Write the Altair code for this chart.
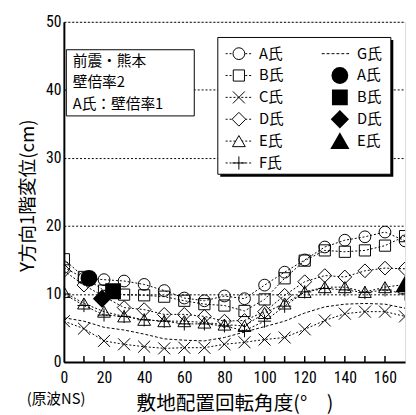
import altair as alt
import pandas as pd

# ---------------- data ----------------
angles = [0, 10, 20, 30, 40, 50, 60, 70, 80, 90, 100, 110, 120, 130, 140, 150, 160, 170]
A = [13.9, 12.3, 12.1, 11.9, 11.4, 10.5, 9.4, 9.0, 9.7, 9.3, 11.3, 13.2, 15.0, 16.9, 17.9, 18.4, 19.1, 17.8]
B = [15.1, 12.5, 10.5, 9.9, 9.8, 9.6, 9.0, 8.5, 8.3, 7.5, 9.2, 12.3, 14.9, 16.4, 16.2, 16.4, 17.1, 18.5]
C = [6.0, 4.9, 3.1, 2.6, 2.25, 2.0, 2.1, 2.1, 2.6, 2.9, 3.3, 3.6, 4.8, 6.1, 7.1, 7.4, 7.4, 6.7]
D = [13.4, 11.3, 9.6, 8.0, 7.7, 7.0, 7.0, 6.7, 6.0, 6.1, 7.4, 9.8, 11.8, 12.7, 12.5, 13.4, 13.8, 13.7]
E = [10.3, 8.6, 7.4, 6.7, 6.2, 6.0, 6.0, 5.8, 5.5, 5.3, 7.2, 8.6, 10.3, 11.0, 11.0, 10.3, 11.0, 11.4]
F = [10.0, 8.3, 6.9, 6.7, 6.2, 6.0, 5.6, 5.6, 5.3, 4.6, 6.0, 8.2, 10.3, 10.8, 10.6, 10.2, 10.6, 10.0]
G = [6.5, 6.0, 5.1, 4.7, 4.1, 3.4, 3.2, 3.1, 3.6, 4.4, 5.2, 6.0, 7.2, 8.1, 8.5, 8.6, 8.5, 7.9]

series_names = ["A氏", "B氏", "C氏", "D氏", "E氏", "F氏", "G氏"]
series_values = [A, B, C, D, E, F, G]

filled_names = ["A氏", "B氏", "D氏", "E氏"]
filled_x = [12.5, 24.5, 19.0, 170.0]
filled_y = [12.3, 10.4, 9.3, 11.4]

x_ticks_labels = [0, 20, 40, 60, 80, 100, 120, 140, 160]
x_minor_ticks = [10, 20, 30, 40, 50, 60, 70, 80, 90, 100, 110, 120, 130, 140, 150, 160]
y_ticks = [0, 10, 20, 30, 40, 50]

note_lines = ["前震・熊本", "壁倍率2", "A氏：壁倍率1"]

# ---------------- styles ----------------
W, H = 348, 347
CJK = "Noto Sans CJK JP"
NUM = "Liberation Sans Narrow, Roboto Condensed, Liberation Sans, Arial"

X_PATH = "M-1,-1L1,1M-1,1L1,-1"
PLUS_PATH = "M0,-1L0,1M-1,0L1,0"
open_shapes = {"A氏": ("circle", 144), "B氏": ("square", 130), "C氏": (X_PATH, 150),
               "D氏": ("diamond", 196), "E氏": ("triangle-up", 170), "F氏": (PLUS_PATH, 180)}
filled_shapes = {"A氏": ("circle", 230), "B氏": ("square", 200), "D氏": ("diamond", 250),
                 "E氏": ("triangle-up", 260)}

xscale = alt.Scale(domain=[0, 170], nice=False, zero=False)
yscale = alt.Scale(domain=[0, 50], nice=False)

xaxis = alt.Axis(values=x_ticks_labels, ticks=False, grid=False, labelFont=NUM, labelFontSize=16,
                 labelColor="black", labelPadding=8, domainColor="black", domainWidth=2,
                 title="敷地配置回転角度(°\u3000)", titleFont=CJK, titleFontSize=20, titleFontWeight="normal",
                 titleColor="black", titleBaseline="middle", titleY=42, labelFlush=False)
yaxis = alt.Axis(values=y_ticks, ticks=False, grid=True, gridDash=[2, 2], gridColor="black", gridWidth=1,
                 labelFont=NUM, labelFontSize=16, labelColor="black", labelPadding=3,
                 domainColor="black", domainWidth=2,
                 title="Y方向1階変位(cm)", titleFont=CJK, titleFontSize=19, titleFontWeight="normal",
                 titleColor="black", titleAngle=-90, titleBaseline="middle", titleAlign="center",
                 titleX=-37, titleY=177, labelFlush=False)

layers = []

# axis carrier (grid + axes)
axis_df = pd.DataFrame({"x": [0, 170], "y": [0, 50]})
layers.append(alt.Chart(axis_df).mark_point(opacity=0).encode(
    x=alt.X("x:Q", scale=xscale, axis=xaxis),
    y=alt.Y("y:Q", scale=yscale, axis=yaxis)))

# lines
for name, vals in zip(series_names, series_values):
    df = pd.DataFrame({"x": angles, "y": vals})
    dash = [3, 2] if name == "G氏" else [2, 2]
    layers.append(alt.Chart(df).mark_line(color="black", strokeWidth=1, strokeDash=dash, clip=True).encode(
        x=alt.X("x:Q", scale=xscale), y=alt.Y("y:Q", scale=yscale)))

# open markers
for name, vals in zip(series_names, series_values):
    if name not in open_shapes:
        continue
    shp, sz = open_shapes[name]
    df = pd.DataFrame({"x": angles, "y": vals})
    layers.append(alt.Chart(df).mark_point(shape=shp, size=sz, filled=False, stroke="black", strokeWidth=1,
                                           opacity=1, clip=True).encode(
        x=alt.X("x:Q", scale=xscale), y=alt.Y("y:Q", scale=yscale)))

# filled markers
for name, fx, fy in zip(filled_names, filled_x, filled_y):
    shp, sz = filled_shapes[name]
    df = pd.DataFrame({"x": [fx], "y": [fy]})
    layers.append(alt.Chart(df).mark_point(shape=shp, size=sz, filled=True, fill="black", stroke="black",
                                           opacity=1, clip=True).encode(
        x=alt.X("x:Q", scale=xscale), y=alt.Y("y:Q", scale=yscale)))

# inward minor ticks on x axis
tick_df = pd.DataFrame({"x": x_minor_ticks})
layers.append(alt.Chart(tick_df).mark_rule(color="black", strokeWidth=1.5).encode(
    x=alt.X("x:Q", scale=xscale), y=alt.value(H), y2=alt.value(H - 6)))

# annotation box
layers.append(alt.Chart(pd.DataFrame({"a": [0]})).mark_rect(fill="white", stroke="black", strokeWidth=1).encode(
    x=alt.value(2.5), x2=alt.value(133), y=alt.value(28.5), y2=alt.value(96)))
note_df = pd.DataFrame({"t": note_lines, "py": [40.5, 62, 83.5]})
layers.append(alt.Chart(note_df).mark_text(font=CJK, fontSize=15, align="left", baseline="middle",
                                            color="black").encode(
    x=alt.value(9), y=alt.Y("py:Q", scale=None), text="t:N"))

# legend box with shadow
layers.append(alt.Chart(pd.DataFrame({"a": [0]})).mark_rect(fill="black").encode(
    x=alt.value(159.5), x2=alt.value(336), y=alt.value(18.5), y2=alt.value(158)))
layers.append(alt.Chart(pd.DataFrame({"a": [0]})).mark_rect(fill="white", stroke="black", strokeWidth=1).encode(
    x=alt.value(157), x2=alt.value(333.5), y=alt.value(16), y2=alt.value(155.5)))

row_y = [32.5, 54.8, 77.1, 99.4, 121.7, 144.0]
left_names = ["A氏", "B氏", "C氏", "D氏", "E氏", "F氏"]
# left column lines
for i, name in enumerate(left_names):
    ly = row_y[i]
    layers.append(alt.Chart(pd.DataFrame({"a": [0]})).mark_rule(color="black", strokeWidth=1, strokeDash=[2, 2]).encode(
        x=alt.value(165), x2=alt.value(192), y=alt.value(ly)))
    shp, sz = open_shapes[name]
    layers.append(alt.Chart(pd.DataFrame({"px": [178.5], "py": [ly]})).mark_point(
        shape=shp, size=sz, filled=True, fill="white", stroke="black", strokeWidth=1, opacity=1).encode(
        x=alt.X("px:Q", scale=None), y=alt.Y("py:Q", scale=None)))
leg_left = pd.DataFrame({"t": left_names, "py": row_y})
layers.append(alt.Chart(leg_left).mark_text(font=CJK, fontSize=15, align="left", baseline="middle",
                                             color="black").encode(
    x=alt.value(199), y=alt.Y("py:Q", scale=None), text="t:N"))

# right column: G line + filled markers
layers.append(alt.Chart(pd.DataFrame({"a": [0]})).mark_rule(color="black", strokeWidth=1, strokeDash=[3, 2]).encode(
    x=alt.value(263), x2=alt.value(292), y=alt.value(row_y[0])))
for i, name in enumerate(filled_names):
    shp, sz = filled_shapes[name]
    layers.append(alt.Chart(pd.DataFrame({"px": [281.5], "py": [row_y[i + 1]]})).mark_point(
        shape=shp, size=sz, filled=True, fill="black", stroke="black", opacity=1).encode(
        x=alt.X("px:Q", scale=None), y=alt.Y("py:Q", scale=None)))
leg_right = pd.DataFrame({"t": ["G氏"] + filled_names, "py": row_y[:5]})
layers.append(alt.Chart(leg_right).mark_text(font=CJK, fontSize=15, align="left", baseline="middle",
                                              color="black").encode(
    x=alt.value(299), y=alt.Y("py:Q", scale=None), text="t:N"))

# "(原波NS)" under x=0
layers.append(alt.Chart(pd.DataFrame({"t": ["(原波NS)"]})).mark_text(
    font=CJK, fontSize=15, align="center", baseline="middle", color="black").encode(
    x=alt.value(-8), y=alt.value(385), text="t:N"))

chart = alt.layer(*layers).properties(
    width=W, height=H,
    autosize=alt.AutoSizeParams(type="none"),
    padding={"left": 57, "top": 10, "right": 3, "bottom": 50},
).configure_view(stroke="black", strokeWidth=1.5).configure(background="white")

chart.save("out.html", embed_options={"renderer": "svg", "actions": False})
